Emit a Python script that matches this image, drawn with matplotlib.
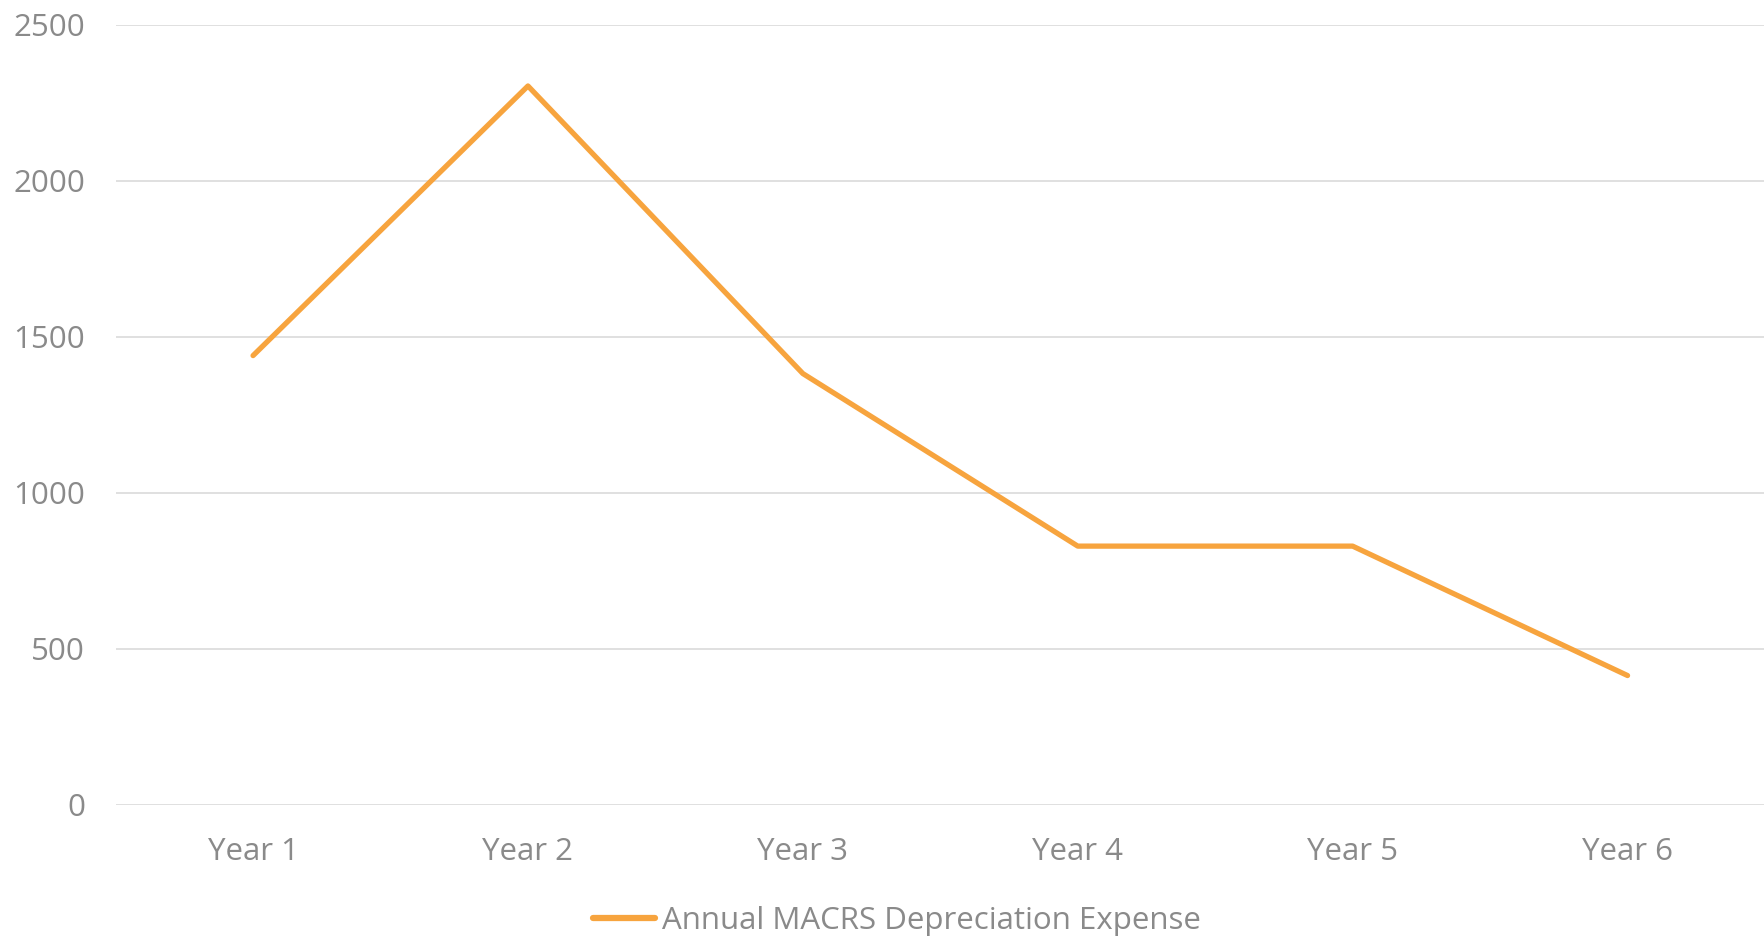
import matplotlib
matplotlib.use("Agg")
import matplotlib.pyplot as plt

categories = ["Year 1", "Year 2", "Year 3", "Year 4", "Year 5", "Year 6"]
values = [1440, 2304, 1382.4, 829.44, 829.44, 414.72]
yticks = [0, 500, 1000, 1500, 2000, 2500]
series_name = "Annual MACRS Depreciation Expense"

plt.rcParams['font.family'] = ['Open Sans', 'DejaVu Sans']

fig = plt.figure(figsize=(17.65, 9.36), dpi=100)
ax = fig.add_axes([0.0655, 0.140, 0.9345, 0.8335])

x = list(range(len(categories)))
ax.plot(x, values, color="#F7A43E", linewidth=3.8, solid_capstyle="round",
        solid_joinstyle="round", label=series_name, zorder=3)

ax.set_xlim(-0.5, len(categories) - 0.5)
ax.set_ylim(0, 2500)
ax.set_yticks(yticks)
ax.set_xticks(x)
ax.set_xticklabels(categories)
ax.grid(axis="y", color="#E0E0E0", linewidth=1.4)
ax.set_axisbelow(True)
for s in ax.spines.values():
    s.set_visible(False)
ax.tick_params(axis="both", length=0, labelsize=22.5, labelcolor="#8A8A8A")
ax.tick_params(axis="y", pad=22)
ax.tick_params(axis="x", pad=23)

leg = fig.legend(loc="center", bbox_to_anchor=(0.508, 0.016), frameon=False,
                 fontsize=22.5, handlelength=2.0, handletextpad=0.2, labelcolor="#8A8A8A")
for h in leg.get_lines():
    h.set_linewidth(4.5)
    h.set_solid_capstyle("round")

fig.savefig("out.png", dpi=100)
